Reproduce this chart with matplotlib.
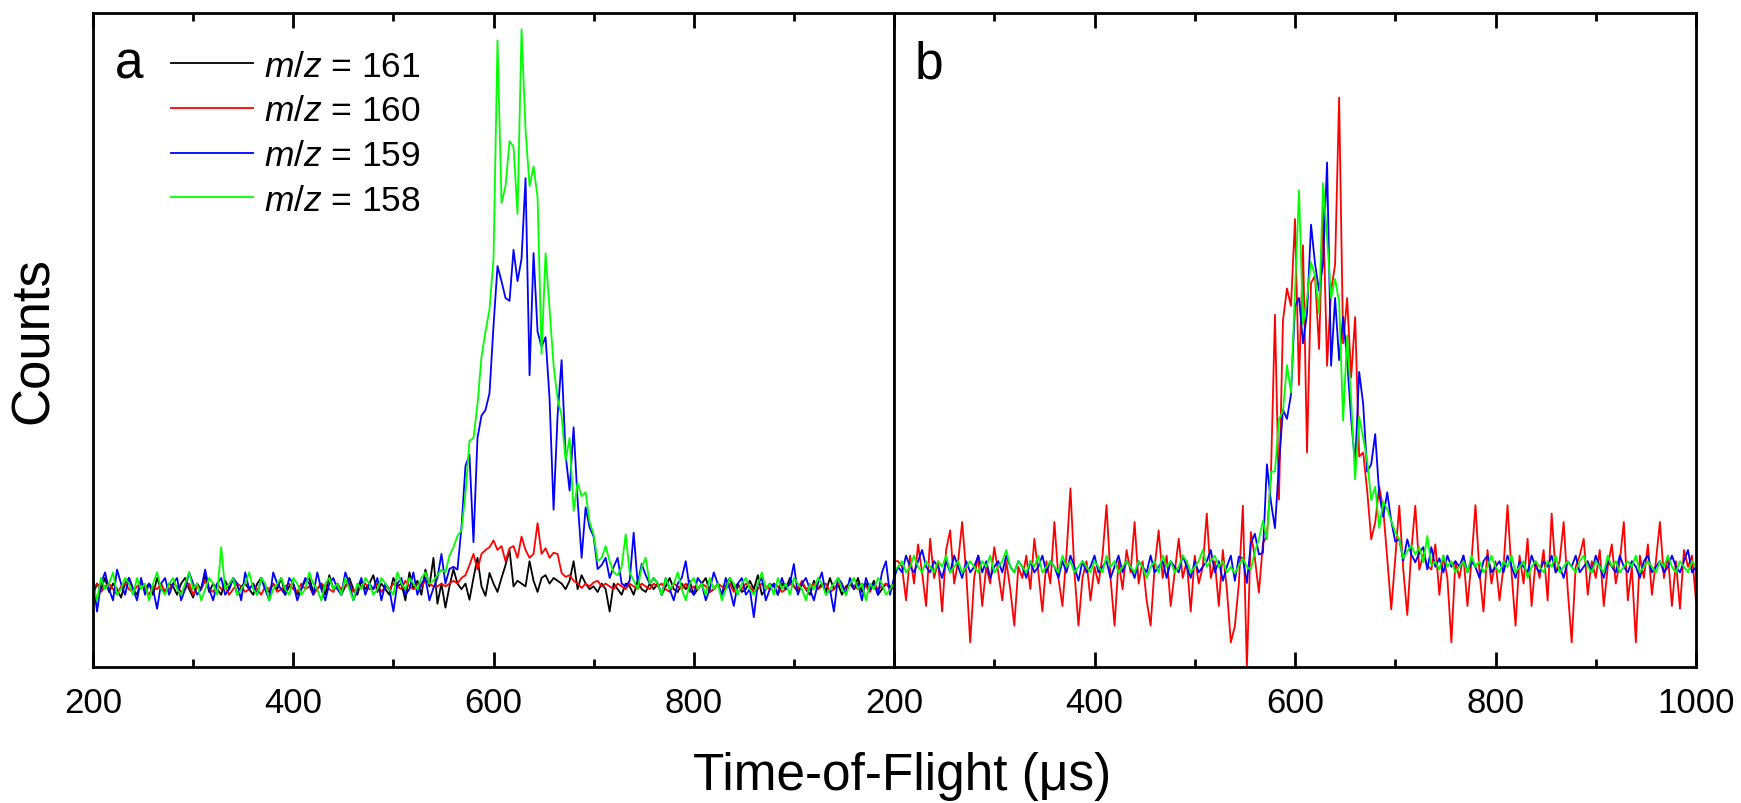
import numpy as np
import matplotlib
matplotlib.use("Agg")
import matplotlib.pyplot as plt
from matplotlib.ticker import MultipleLocator

# Fonts: Arial-like text, italic m/z via mathtext
plt.rcParams['font.family'] = ['Liberation Sans', 'DejaVu Sans']
plt.rcParams['mathtext.fontset'] = 'custom'
plt.rcParams['mathtext.it'] = 'Liberation Sans:italic'
plt.rcParams['mathtext.rm'] = 'Liberation Sans'

# Time-of-flight grid (us), 4 us steps from 200 to 1000
tof = np.arange(200, 1001, 4)

labels = ['$m/z$ = 161', '$m/z$ = 160', '$m/z$ = 159', '$m/z$ = 158']

# ---- panel a (counts, arbitrary units) ----
mz161_a = [
    -1, 1, 0, 2, -0.5, 1, 0, -1.5, 1, 2,
    0, -1, 1.5, 0, 1, -1, 2, 0, -0.5, 1,
    0.5, -1, 1, 2, 0, -1.5, 1, 0, 2.5, -0.5,
    1, 0, -1, 1.5, 0, 2, -1, 0.5, 1, 0,
    -1, 1, 2, 0, -0.5, 1, 0, 2, -1, 0.5,
    1, -1, 0, 1.5, 2, -0.5, 0, 1, -1, 2.5,
    0, 1, -1, 0.5, 2, 0, -1, 1.5, 0, 1,
    2.5, -0.5, 1, 0, -1, 2, 0.5, 1, -2, 3,
    0, 1.5, -1, 3.5, 0.5, 5.6, -2.6, 1, -3.3, 0.5,
    3.6, 1, 0, 1, -1.9, 2, 5.6, 0.5, -1.2, 2.9,
    1, -0.5, 2, 4.3, 7, 0.5, 1.5, 1, 0.5, 5,
    1.5, -0.5, 2, 2.5, 1, 2, 1.5, 1, 0, 1.5,
    5, 0, 2.5, 1, 0, 0.5, -0.5, 1, 0, -4,
    1, 0, -1, 1, 0.5, -1, 1.5, 0, -0.5, 1,
    0, 1, -1, 0.5, 2, 0, -0.5, 1, 0, 1.5,
    -1, 0, 1, 2, -0.5, 0, 1, -1, 0.5, 2,
    0, 1, -0.5, 0, 1.5, 0, 2.5, -1, 0, 1,
    0.5, -1, 1, 0, 2, 0.5, -0.5, 1, 0, -1,
    1.5, 0, 1, -0.5, 2, 0, 1, -1, 0.5, 1,
    0, 2, -0.5, 1, 0, 1.5, -1, 0, 1, 0.5,
    0,
]
mz160_a = [
    0, 1, -0.5, 0.5, 1, 0, -1, 0.5, 1, 0,
    -0.5, 0.5, 1, 0, -1, 0.5, 0, 1, -0.5, 0,
    1, 0.5, -0.5, 0, 1, -1, 0.5, 0, 1.5, 0,
    -0.5, 1, 0, 0.5, -1, 0, 1, 0.5, -0.5, 0,
    1, 0, -1, 0.5, 0, 1, -0.5, 0, 0.5, 1,
    0, -0.5, 1, 0, 0.5, -1, 0, 1, 0.5, 0,
    -0.5, 1, 0, 0.5, 1, -0.5, 0, 0.5, 1, 0,
    0, 1, -0.5, 0.5, 0, 1, 0.5, 0, 1.5, 0.5,
    0, 1, 0.5, 1.5, 1, 0.5, 0.5, 1, 0.5, 1,
    1.5, 1, 2, 2.5, 4.3, 6.3, 3.5, 6.3, 7, 7.5,
    8.7, 7, 7.7, 5, 7.3, 7.7, 5.6, 9.4, 7, 5.6,
    6.3, 11.8, 6.3, 7.3, 5.6, 6.5, 6.3, 2.9, 2.2, 2.5,
    1.5, 1, 0.2, 1, 0.5, 1.2, 1.5, 0.5, 1, 0.5,
    0, 1, 0.5, 0, 1, 0.5, 0, 1, 0.5, 0,
    1, 0.5, 1, 0, -0.5, 1, 0.5, 0, 1, -0.5,
    0.5, 0, 1, 0.5, -0.5, 0, 1, 0.5, 0, 1,
    -0.5, 0.5, 0, 1, 0.5, -0.5, 0, 1, 0.5, 0,
    1, 0.5, -0.5, 0, 1, 0.5, 0, 1.5, 0, 0.5,
    1, 0, 0.5, 1, -0.5, 0, 1, 0.5, 0, 1,
    0.5, 0, 1, 0.5, -0.5, 1, 0, 0.5, 1, 0,
    0.5,
]
mz159_a = [
    2, -4, 1, 3, 0, -2, 3.5, 1, -1, 2,
    0, -2, 2, -1, 1, 0, -3.5, 1, 2, -1,
    1, 2, -2, 0, 3, 1, -1, 0, 3.5, 0,
    -2, 1, 2, -1, 0, 2, 1, -2, 3, 0,
    1, -1, 2, 0, -2, 3, 1, 0, -1, 2,
    1, -2, 0, 2, 1, -1, 3, 0, -2, 1,
    2, 0, -1, 3, 1, -2, 0, 2, -1, 1,
    0, 2, -2, 1, 0, -4, 1, 2, -1, 0,
    3, -1, 1, 2, -2, 0.2, 2, 6.3, 1, 3.6,
    4, 3.5, 11, 22, 24, 8.4, 27, 31, 32, 35,
    47, 57.7, 55, 52, 51.5, 60.6, 55, 59, 73.4, 38.2,
    60, 46, 43.3, 45, 34, 14.2, 31, 40.9, 24, 17.6,
    28.9, 15.9, 5.6, 14.6, 11, 9.4, 3.6, 4.3, 5.6, 2,
    4, 5.6, 1, 0.5, 1.5, 10.1, 1, 4.5, 2.5, 1,
    2, 1, -1, 2, 0, -2, 1, 2, 5, 0,
    -1, 2, 1, -2, 0, 3, 1, -1, 2, 0,
    -3, 1, 2, -1, 0, -5, 1, 2, -2, 0,
    1, -1, 2, 0, 1, 4.5, -1, 1, 2, 0,
    -2, 1, 3, -1, 0, -4, 2, 1, -1, 2,
    0, 1, -2, 2, 0, 1, -1, 3, 5, -1,
    2,
]
mz158_a = [
    1, -2, 2, 0, 1, 3, -1, 0, 2, 1,
    -1, 2, 0, 1, -2, 1, 3, 0, -1, 1,
    2, 0, -1, 1, 3, 0, 1, -2, 0, 2,
    1, -1, 7.5, 0, 1, 2, -1, 0, 1, 3,
    0, -1, 2, 1, -2, 0, 1, 2, 0, -1,
    2, 1, -1, 0, 3, 1, 0, -2, 1, 2,
    0, 1, -1, 2, 0, -2, 1, 0, 2, 1,
    -1, 0, 2, 1, 0, -1, 3, 1, 0, 2,
    1, 0, 2, 3, 1, 1.5, 2.5, 3.5, 3, 6,
    7.5, 9.5, 10.5, 17, 26.5, 27, 33, 41.5, 46, 50,
    59, 98, 69, 72, 80, 79, 67, 100, 82, 72,
    75.5, 70, 42, 60, 50, 40, 34, 31, 23, 27,
    14, 19, 16.6, 17.3, 12, 9.8, 5, 5.6, 7.7, 5,
    3, 2.5, 4, 9.8, 3, 1.5, 0, 4, 5.6, 1,
    2, 1, -1, 2, 0, 1, 3, 0, -2, 1,
    2, 0, 1, -1, 2, 0, 1, -2, 0, 2,
    1, -1, 1, 2, 0, -1, 1, 3, 0, 1,
    -1, 2, 0, 1, -1, 2, 1, 0, -2, 1,
    0, 2, 1, -1, 0, 1, 2, 0, -1, 1,
    2, 0, 1, -2, 1, 0, 2, 1, -1, 0,
    1,
]

# ---- panel b ----
mz160_b = [
    5, 5, 4, -2, 6, 1, 8, 3, -3, 9,
    2, 5, -4, 7, 10.5, 1, 5, 12, 3, -9.5,
    2, 6, -3, 4, 1, 7.5, 3, -2, 5, 0,
    -6.5, 4, 2, 6, 0, 9, 3, -4, 5, 1,
    12, 2, -3, 6, 18, 3, -6.5, 2, 5, -2,
    4, 1, 6, 15, 2, -6.5, 5, 0, 7, 3,
    12, 1, 5, -2, -6.5, 4, 10.5, 2, 6, -3,
    3, 9, 2, 5, -4, 6, 1, 4, 13.5, 2,
    5, -3, 7, 0, -9.5, -6.6, 1, 14.9, -14, 10.2,
    5.5, -0.6, 8.2, 9.5, 20.3, 49, 16, 48, 53.7, 50.6,
    66.1, 36.5, 61.4, 24.4, 54.7, 56, 42.9, 68.2, 39.9, 53.3,
    58, 87.8, 43.9, 52, 37.8, 48.6, 23.7, 24.4, 17.6, 8.9,
    11.9, 18.3, 14.3, 5.5, -3.6, 5.5, 14.9, 3.5, -4.6, 6.8,
    14.9, 3.5, 6.2, 4.2, 3.5, 8, -1, 6, 2, -9.5,
    5, 2, 6, -3, 5, 15, 3, -4, 7, 1,
    5, -2, 4, 15, 3, -6.5, 6, 1, 9, -3,
    5, 2, 7, -2, 13.5, 3, 5, 12, 0, -9.5,
    4, 6, 9, -1, 5, 2, 7, -3, 4, 8,
    1, 5, 12, -2, 4, -9.5, 6, 2, 8, -1,
    5, 12, 2, 6, -3, 5, -3.5, 7, 4, 6,
    -2,
]
mz159_b = [
    2, 4, 3, 6, 4, 3, 5, 7, 4, 3,
    5, 4, 2, 5, 3, 6, 4, 2, 5, 3,
    4, 6, 3, 5, 2, 4, 5, 3, 6, 4,
    3, 5, 4, 2, 5, 3, 4, 6, 3, 5,
    4, 2, 5, 3, 6, 4, 1.5, 5, 3, 4,
    6, 3, 4, 5, 2, 4, 6, 3, 5, 4,
    2, 5, 4, 3, 6, 3, 4, 5, 2, 5,
    4, 3, 6, 4, 2, 5, 3, 4, 5, 7,
    3, 5, 1.5, 4, 6, 1.5, 5.8, 5.5, 1.1, 8.2,
    9.9, 6.2, 6.5, 22.3, 15.6, 10.9, 22.3, 32.1, 30.4, 34.8,
    50.6, 52, 43.9, 49.3, 65.1, 58.1, 53.3, 58.1, 76.2, 39.9,
    52, 40.9, 48.6, 40.9, 30.4, 22.3, 38.8, 33.1, 21, 22.3,
    27.7, 17, 12.9, 17.3, 12.2, 8.5, 8.9, 5.1, 8.9, 6.2,
    4.8, 6.5, 7.5, 3.5, 7.5, 4, 5.5, 3, 6, 4,
    5, 4, 6, 3, 5, 4, 2, 5, 6, 3,
    4, 5, 3, 6, 4, 2, 5, 4, 3, 6,
    4, 3, 5, 4, 6, 3, 4, 2, 5, 4,
    6, 3, 4, 5, 3, 6, 4, 2, 5, 4,
    3, 6, 4, 3, 5, 4, 2, 5, 6, 3,
    4, 5, 3, 4, 6, 4, 3, 5, 7, 3,
    4,
]
mz158_b = [
    3, 4, 5, 3, 4, 6, 4, 3, 5, 4,
    3, 5, 4, 6, 3, 4, 5, 3, 4, 5,
    4, 3, 5, 4, 6, 3, 4, 5, 7, 4,
    3, 5, 4, 3, 5, 4, 6, 3, 4, 5,
    4, 3, 6, 4, 5, 3, 4, 5, 4, 3,
    5, 4, 3, 6, 4, 5, 3, 4, 5, 4,
    3, 5, 4, 2, 4, 5, 3, 6, 4, 5,
    3, 4, 6, 5, 3, 4, 5, 7, 4, 5,
    6, 4, 5, 3, 4, 2.8, 4.2, 5.5, 4, 3.5,
    6.8, 8.9, 12.2, 8.9, 21, 21, 30.4, 31.8, 40, 35.1,
    53.3, 71.2, 47.3, 52, 58.4, 56, 49.3, 72.5, 62.8, 52,
    55.4, 51.3, 30.1, 45.3, 33.8, 19.6, 30.8, 27.1, 23, 15.9,
    18.3, 10.9, 15.6, 14.3, 12.2, 10.2, 8.9, 5.5, 6.8, 7.8,
    6.2, 7.5, 4.8, 9.5, 4.2, 5, 3.5, 6, 4, 5,
    3, 4, 5, 3, 6, 4, 5, 3, 4, 6,
    4, 3, 5, 4, 6, 3, 4, 5, 2, 4,
    5, 4, 3, 5, 4, 6, 3, 4, 5, 4,
    3, 5, 6, 4, 3, 5, 4, 3, 6, 4,
    5, 3, 4, 5, 4, 6, 3, 4, 5, 4,
    3, 5, 4, 6, 4, 3, 5, 4, 3, 5,
    4,
]

colors = ['black', 'red', 'blue', '#00ff00']

W, H = 1741, 804
fig = plt.figure(figsize=(W / 100, H / 100), dpi=100)
ax_a = fig.add_axes([93 / W, 136 / H, 801 / W, 654 / H])
ax_b = fig.add_axes([894 / W, 136 / H, 802 / W, 654 / H])

lw = 1.3
for y, c, lab in zip([mz161_a, mz160_a, mz159_a, mz158_a], colors, labels):
    ax_a.plot(tof, y, color=c, lw=lw, label=lab)
for y, c in zip([mz160_b, mz159_b, mz158_b], colors[1:]):
    ax_b.plot(tof, y, color=c, lw=lw)

for ax in (ax_a, ax_b):
    ax.set_xlim(200, 1000)
    ax.set_ylim(-13.9, 102.9)
    ax.set_yticks([])
    ax.xaxis.set_minor_locator(MultipleLocator(100))
    ax.tick_params(axis='x', which='both', direction='in', top=True,
                   width=2, labelsize=25, pad=14)
    ax.tick_params(axis='x', which='major', length=11)
    ax.tick_params(axis='x', which='minor', length=6)
    for s in ax.spines.values():
        s.set_linewidth(2)

ax_a.set_xticks([200, 400, 600, 800])
ax_b.set_xticks([200, 400, 600, 800, 1000])

# panel letters
ax_a.text(0.0275, 0.902, 'a', transform=ax_a.transAxes, fontsize=37, va='baseline')
ax_b.text(0.0262, 0.902, 'b', transform=ax_b.transAxes, fontsize=37, va='baseline')

ax_a.legend(loc='upper left', bbox_to_anchor=(0.0975, 0.944), frameon=False,
            fontsize=25.5, handlelength=2.3, handletextpad=0.33,
            labelspacing=0.33, borderpad=0, borderaxespad=0)

fig.text(902 / W, 1 - 790 / H, 'Time-of-Flight (μs)', ha='center',
         va='baseline', fontsize=37)
fig.text(34 / W, 1 - 341 / H, 'Counts', rotation=90, ha='center',
         va='center', fontsize=38)

fig.savefig('out.png', dpi=100)
